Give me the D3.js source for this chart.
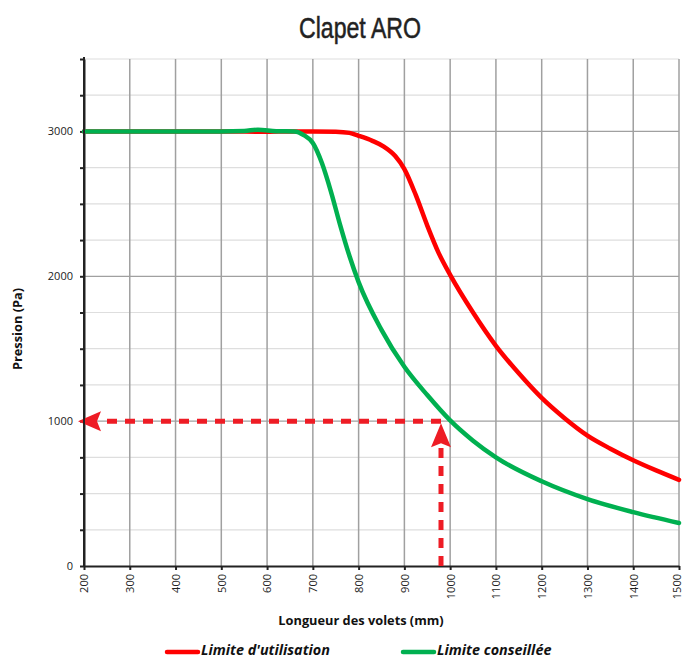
<!DOCTYPE html>
<meta charset="utf-8">
<style>
body { margin: 0; background: #fff; }
.grid-v line { stroke: #a0a0a0; stroke-width: 1.5; }
.grid-major line { stroke: #a0a0a0; stroke-width: 1.2; }
.grid-minor line { stroke: #dedede; stroke-width: 1.2; }
.axis path, .axis line { stroke: #222; stroke-width: 2; fill: none; }
.axis text { font-family: "Open Sans", "Liberation Sans", sans-serif; font-size: 11px; fill: #222; }
.curve { fill: none; stroke-width: 4.5; stroke-linejoin: round; stroke-linecap: round; }
.label { font-family: "Open Sans", "Liberation Sans", sans-serif; font-size: 12.8px; font-weight: bold; fill: #111; }
.legend text { font-family: "Open Sans", "Liberation Sans", sans-serif; font-size: 14.4px; font-weight: bold; font-style: italic; fill: #111; }
</style>
<svg width="683" height="659"></svg>
<script src="https://d3js.org/d3.v7.min.js"></script>
<script>

// Longueur (mm) / pression (Pa)
var redX = [200, 300, 400, 500, 600, 650, 700, 750, 780, 800, 830, 855, 880, 900, 925, 950, 975, 1000, 1050, 1100, 1150, 1200, 1250, 1300, 1350, 1400, 1450, 1500];
var redY = [3000, 3000, 3000, 3000, 2998, 3000, 3000, 2998, 2990, 2970, 2935, 2895, 2830, 2740, 2560, 2350, 2160, 2010, 1750, 1520, 1330, 1160, 1020, 900, 810, 730, 660, 595];

var greenX = [200, 300, 400, 500, 550, 580, 620, 660, 680, 700, 720, 740, 760, 780, 800, 850, 900, 950, 1000, 1050, 1100, 1200, 1300, 1400, 1500];
var greenY = [3000, 3000, 3000, 3000, 3003, 3012, 3002, 3000, 2975, 2920, 2780, 2580, 2350, 2140, 1960, 1630, 1375, 1180, 1005, 865, 750, 585, 462, 372, 297];

var xTicks = d3.range(200, 1501, 100);
var yMajor = [0, 1000, 2000, 3000];
var yMinor = d3.range(0, 3501, 250);

var arrowAt = { x: 980, y: 1000 };

var svg = d3.select("svg"),
    margin = {top: 59, left: 84},
    g = svg.append("g").attr("transform", "translate(" + margin.left + "," + margin.top + ")");

var x = d3.scaleLinear().domain([200, 1500]).range([0, 595]);
var y = d3.scaleLinear().domain([0, 3500]).range([507, 0]);

// Grid
g.append("g").attr("class", "grid-minor")
  .selectAll("line").data(yMinor.filter(function(d) { return d % 1000 != 0; }))
  .enter().append("line")
    .attr("x1", 0).attr("x2", x(1500))
    .attr("y1", function(d) { return y(d); }).attr("y2", function(d) { return y(d); });

g.append("g").attr("class", "grid-v")
  .selectAll("line").data(xTicks.slice(1))
  .enter().append("line")
    .attr("x1", function(d) { return x(d); }).attr("x2", function(d) { return x(d); })
    .attr("y1", 0).attr("y2", y(0));

g.append("g").attr("class", "grid-major")
  .selectAll("line").data(yMajor.slice(1))
  .enter().append("line")
    .attr("x1", 0).attr("x2", x(1500))
    .attr("y1", function(d) { return y(d); }).attr("y2", function(d) { return y(d); });

// Axes
g.append("g")
    .attr("class", "axis axis--y")
    .call(d3.axisLeft(y).tickValues(yMinor).tickSize(4).tickSizeOuter(0)
      .tickFormat(function(d) { return d % 1000 == 0 ? d : ""; }))
  .selectAll("text").attr("dx", "-4");

var xa = g.append("g")
    .attr("class", "axis axis--x")
    .attr("transform", "translate(0," + y(0) + ")")
    .call(d3.axisBottom(x).tickValues(xTicks).tickSize(4).tickSizeOuter(0).tickFormat(d3.format("d")));
xa.selectAll("text").attr("x", null).attr("y", null)
    .attr("transform", function(d) { return "translate(" + (d == 1500 ? -2 : 0) + ",8) rotate(-90)"; })
    .attr("dy", "0.35em").style("text-anchor", "end");

// Dashed arrows
var dash = "10,8";
g.append("line")
    .attr("x1", x(arrowAt.x)).attr("x2", x(200) + 22)
    .attr("y1", y(arrowAt.y)).attr("y2", y(arrowAt.y))
    .attr("stroke", "#ee1c25").attr("stroke-width", 5).attr("stroke-dasharray", dash);
g.append("line")
    .attr("x1", x(arrowAt.x)).attr("x2", x(arrowAt.x))
    .attr("y1", y(0)).attr("y2", y(arrowAt.y) + 24)
    .attr("stroke", "#ee1c25").attr("stroke-width", 5).attr("stroke-dasharray", dash);

// arrow heads
var ax = x(200), ay = y(arrowAt.y);
g.append("path")
    .attr("d", "M" + (ax - 6) + "," + ay + " L" + (ax + 17) + "," + (ay - 10) + " L" + (ax + 13) + "," + ay + " L" + (ax + 17) + "," + (ay + 10) + "Z")
    .attr("fill", "#ee1c25");
var bx = x(arrowAt.x), by = y(arrowAt.y);
g.append("path")
    .attr("d", "M" + bx + "," + (by + 2) + " L" + (bx + 10) + "," + (by + 26) + " L" + bx + "," + (by + 22) + " L" + (bx - 10) + "," + (by + 26) + "Z")
    .attr("fill", "#ee1c25");

// Curves
var line = d3.line()
    .curve(d3.curveMonotoneX)
    .x(function(d) { return x(d[0]); })
    .y(function(d) { return y(d[1]); });

g.append("path").attr("class", "curve").attr("stroke", "#ff0000")
    .attr("d", line(d3.zip(redX, redY)));
g.append("path").attr("class", "curve").attr("stroke", "#00b050")
    .attr("d", line(d3.zip(greenX, greenY)));

// Left axis line on top
g.append("line").attr("x1", 0).attr("x2", 0).attr("y1", -2).attr("y2", y(0))
    .attr("stroke", "#222").attr("stroke-width", 2);

// Title and labels
svg.append("text")
    .attr("x", 360).attr("y", 38)
    .attr("text-anchor", "middle")
    .attr("textLength", 122).attr("lengthAdjust", "spacingAndGlyphs")
    .style("font-family", "'Liberation Sans Narrow', 'Liberation Sans', sans-serif")
    .style("font-size", "29px")
    .style("fill", "#222").style("stroke", "#222").style("stroke-width", 0.5)
    .text("Clapet ARO");

svg.append("text").attr("class", "label")
    .attr("transform", "translate(22,329) rotate(-90)")
    .attr("text-anchor", "middle")
    .text("Pression (Pa)");

svg.append("text").attr("class", "label")
    .attr("x", 361).attr("y", 625)
    .attr("text-anchor", "middle")
    .text("Longueur des volets (mm)");

// Legend
var legendItems = ["Limite d'utilisation", "Limite conseillée"];
var legendColors = ["#ff0000", "#00b050"];
var legendX = [167, 403];
var legend = svg.append("g").attr("class", "legend");
legend.selectAll("line").data(legendItems).enter().append("line")
    .attr("x1", function(d, i) { return legendX[i]; })
    .attr("x2", function(d, i) { return legendX[i] + 31; })
    .attr("y1", 652).attr("y2", 652)
    .attr("stroke", function(d, i) { return legendColors[i]; })
    .attr("stroke-width", 4.5).attr("stroke-linecap", "round");
legend.selectAll("text").data(legendItems).enter().append("text")
    .attr("x", function(d, i) { return legendX[i] + 34; })
    .attr("y", 655)
    .text(function(d) { return d; });

</script>
